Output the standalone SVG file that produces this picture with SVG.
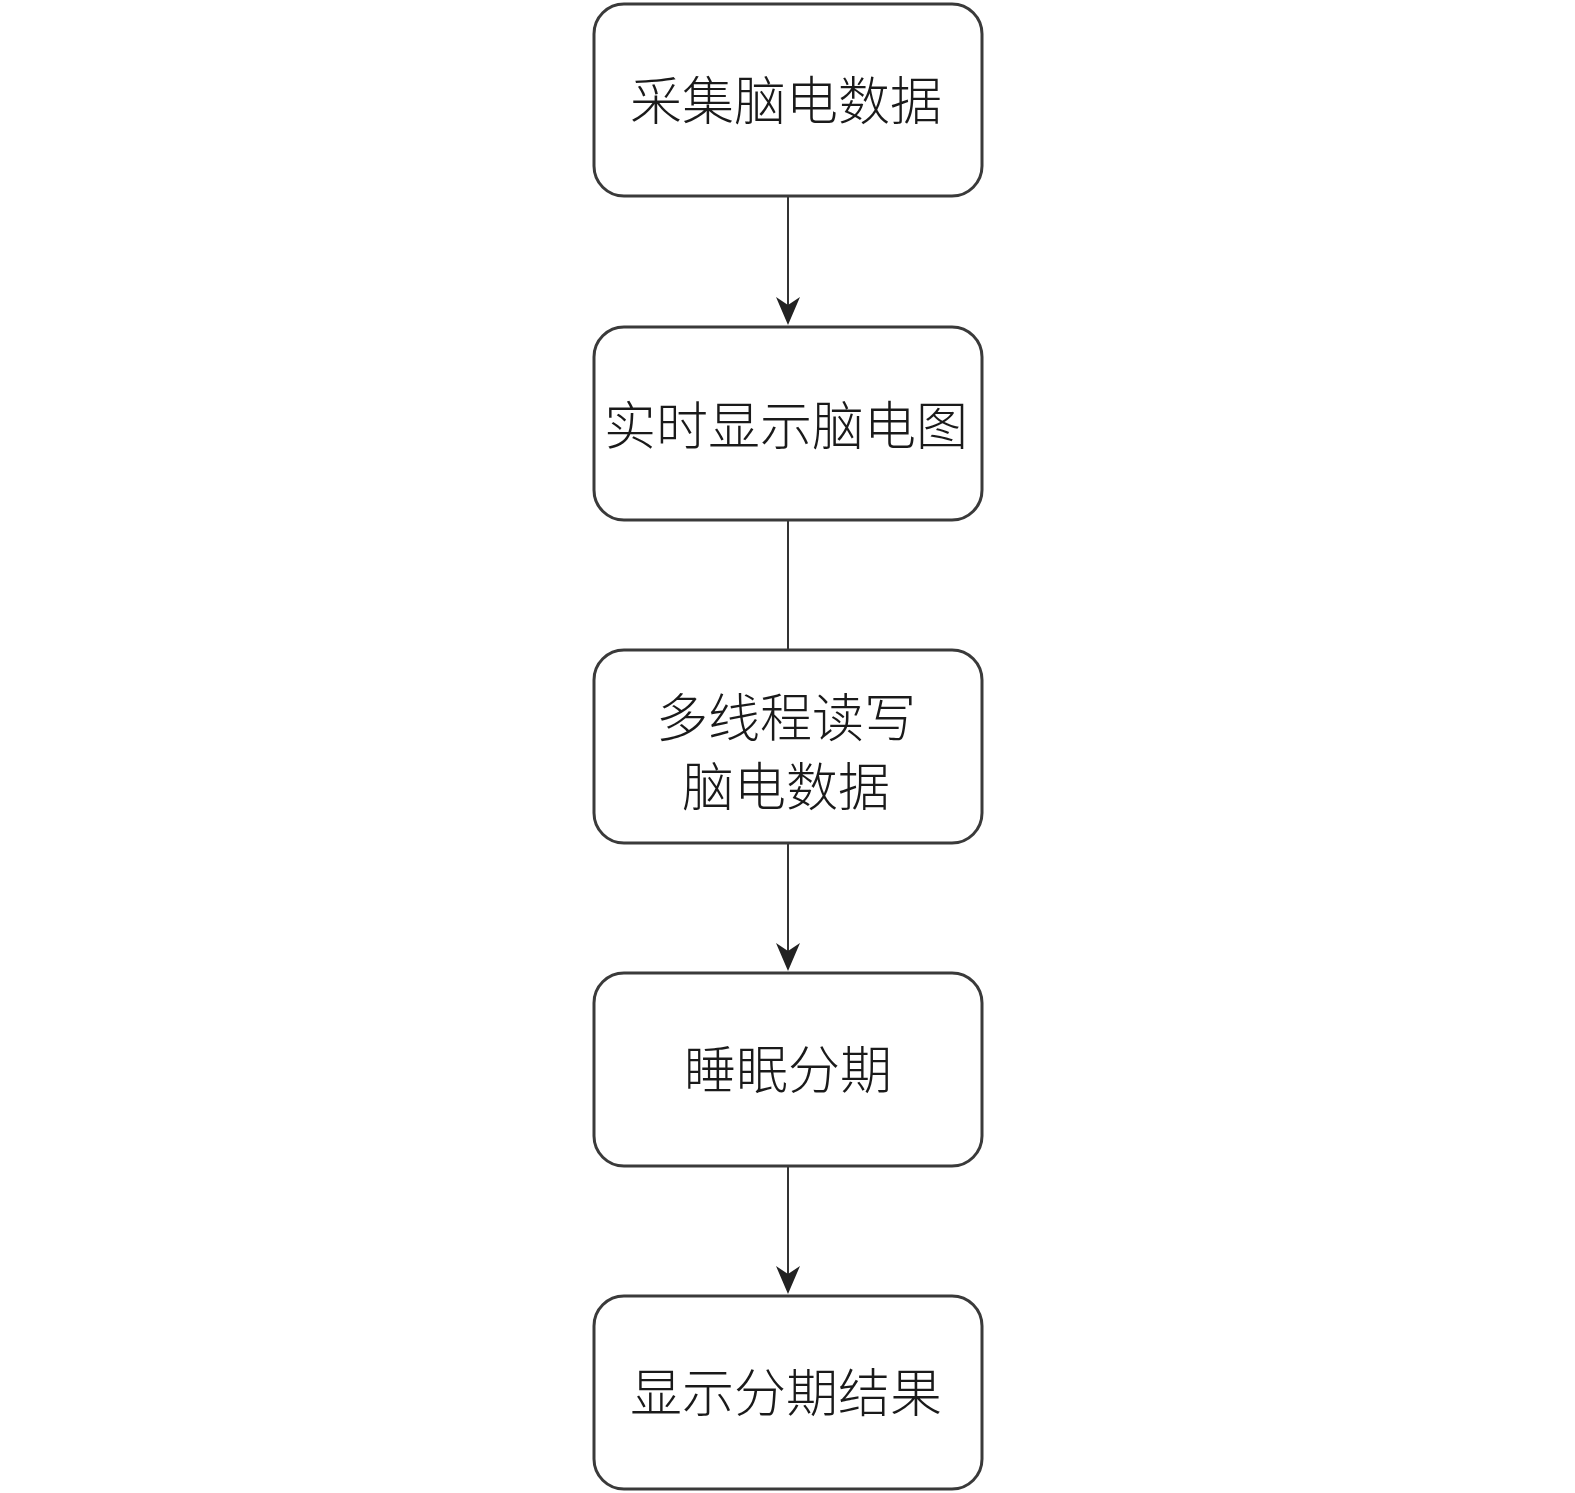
<svg xmlns="http://www.w3.org/2000/svg" width="1575" height="1493" viewBox="0 0 1575 1493">
<defs>
<style>
.box{fill:#fff;stroke:#3a3a3a;stroke-width:3}
.lbl{font-family:"Noto Sans CJK SC","Noto Sans CJK JP",sans-serif;font-size:52px;font-weight:300;fill:#1a1a1a;text-anchor:middle;dominant-baseline:central}
.conn{stroke:#333;stroke-width:2;fill:none}
.head{fill:#222}
</style>
</defs>
<rect width="1575" height="1493" fill="#fff"/>
<g id="connectors">
<line class="conn" x1="788" y1="197" x2="788" y2="305"/>
<path class="head" d="M776,297 L788,305 L800,297 L788,325 Z"/>
<line class="conn" x1="788" y1="520" x2="788" y2="650"/>
<line class="conn" x1="788" y1="843" x2="788" y2="951"/>
<path class="head" d="M776,943 L788,951 L800,943 L788,971 Z"/>
<line class="conn" x1="788" y1="1166" x2="788" y2="1274"/>
<path class="head" d="M776,1266 L788,1274 L800,1266 L788,1294 Z"/>
</g>
<g id="n1"><rect class="box" x="594" y="4" width="388" height="192" rx="30"/><text class="lbl" x="786" y="97">采集脑电数据</text></g>
<g id="n2"><rect class="box" x="594" y="327" width="388" height="193" rx="30"/><text class="lbl" x="786" y="422">实时显示脑电图</text></g>
<g id="n3"><rect class="box" x="594" y="650" width="388" height="193" rx="30"/><text class="lbl" x="786" y="714">多线程读写</text><text class="lbl" x="786" y="783">脑电数据</text></g>
<g id="n4"><rect class="box" x="594" y="973" width="388" height="193" rx="30"/><text class="lbl" x="788" y="1066">睡眠分期</text></g>
<g id="n5"><rect class="box" x="594" y="1296" width="388" height="193" rx="30"/><text class="lbl" x="786" y="1389">显示分期结果</text></g>
</svg>
